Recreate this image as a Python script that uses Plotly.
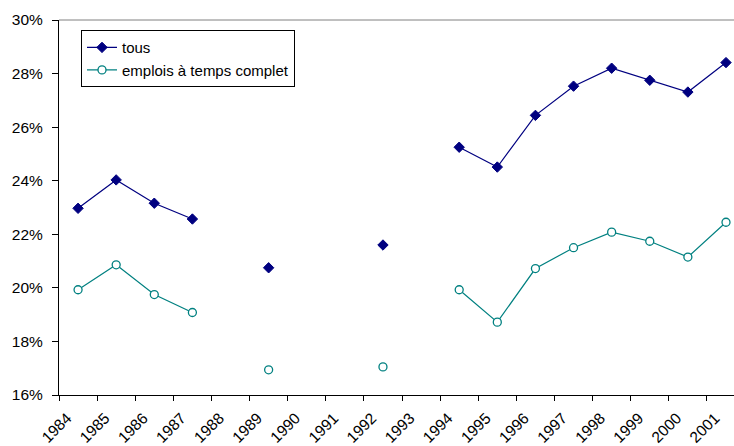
import plotly.graph_objects as go

years = [str(y) for y in range(1984, 2002)]
tous = [22.97, 24.03, 23.16, 22.57, None, 20.75, None, None, 21.60, None,
        25.25, 24.51, 26.44, 27.53, 28.20, 27.75, 27.31, 28.41]
complet = [19.93, 20.86, 19.75, 19.08, None, 16.94, None, None, 17.05, None,
           19.93, 18.72, 20.72, 21.50, 22.08, 21.74, 21.15, 22.45]
y_ticks = [16, 18, 20, 22, 24, 26, 28, 30]
y_labels = [f"{v}%" for v in y_ticks]

FONT = "Liberation Sans, Arial, sans-serif"

fig = go.Figure()
fig.add_trace(go.Scatter(
    x=years, y=tous, name="tous", mode="lines+markers",
    line=dict(color="#000080", width=1.2),
    marker=dict(symbol="diamond", size=8, color="#000080",
                line=dict(color="#000080", width=1)),
    connectgaps=False, cliponaxis=False))
fig.add_trace(go.Scatter(
    x=years, y=complet, name="emplois à temps complet", mode="lines+markers",
    line=dict(color="#008080", width=1.2),
    marker=dict(symbol="circle", size=8, color="white",
                line=dict(color="#008080", width=1.3)),
    connectgaps=False, cliponaxis=False))

fig.update_layout(
    width=734, height=446,
    margin=dict(l=59, r=0, t=20, b=51),
    paper_bgcolor="white", plot_bgcolor="white",
    font=dict(family=FONT, size=15, color="black"),
    showlegend=True,
    legend=dict(x=0.0326, y=0.973, xanchor="left", yanchor="top",
                bgcolor="white", bordercolor="black", borderwidth=1,
                font=dict(size=15), itemwidth=30, tracegroupgap=0),
    xaxis=dict(type="category", categoryorder="array", categoryarray=years,
               range=[-0.5, 17.21], showgrid=False, zeroline=False,
               showline=True, linecolor="black", linewidth=1,
               ticks="outside", tickson="boundaries", ticklen=5,
               tickcolor="black", tickangle=-45, ticklabelstandoff=7,
               ticklabelshift=-11, automargin=False,
               tickfont=dict(size=15.5)),
    yaxis=dict(range=[16, 30], tickvals=y_ticks, ticktext=y_labels,
               showgrid=False, zeroline=False,
               showline=True, linecolor="black", linewidth=1,
               ticks="outside", ticklen=6, tickcolor="black",
               ticklabelstandoff=6, automargin=False,
               tickfont=dict(size=15.5)),
    shapes=[dict(type="line", xref="paper", yref="paper", x0=0, x1=1,
                 y0=1, y1=1, line=dict(color="#808080", width=1))],
)

fig.write_html("out.html")
